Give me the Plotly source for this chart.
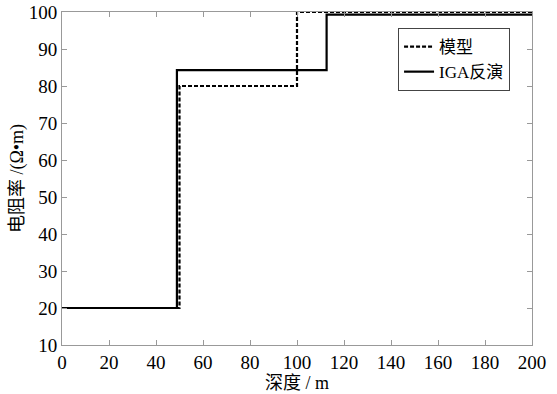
import plotly.graph_objects as go

# Model (dashed) step profile
model_x = [0, 50, 50, 100, 100, 200]
model_y = [20, 20, 80, 80, 100, 100]
# IGA inversion (solid) step profile
iga_x = [0, 48.9, 48.9, 112.6, 112.6, 200]
iga_y = [20, 20, 84.3, 84.3, 99.3, 99.3]

xticks = [0, 20, 40, 60, 80, 100, 120, 140, 160, 180, 200]
yticks = [10, 20, 30, 40, 50, 60, 70, 80, 90, 100]

FONT = "Liberation Serif, Noto Sans CJK SC"

fig = go.Figure()
fig.add_trace(go.Scatter(x=model_x, y=model_y, mode="lines", name="模型",
                         line=dict(color="black", width=2.2, dash="4px,2px")))
fig.add_trace(go.Scatter(x=iga_x, y=iga_y, mode="lines", name="IGA反演",
                         line=dict(color="black", width=2.2)))

axis_common = dict(showgrid=False, zeroline=False, showline=True, linecolor="#999999",
                   linewidth=1, mirror="allticks", ticks="inside", ticklen=5,
                   tickcolor="#999999", automargin=False, ticklabeloverflow="allow",
                   tickfont=dict(family=FONT, size=19, color="black"))

fig.update_layout(
    width=557, height=394,
    margin=dict(l=62, r=25, t=12, b=49, autoexpand=False),
    plot_bgcolor="white", paper_bgcolor="white",
    font=dict(family=FONT, color="black"),
    xaxis=dict(range=[0, 200], tickvals=xticks,
               title=dict(text="深度 / m", font=dict(family=FONT, size=18), standoff=2),
               **axis_common),
    yaxis=dict(range=[10, 100], tickvals=yticks,
               title=dict(text="电阻率 /(Ω•m)", font=dict(family=FONT, size=18), standoff=0),
               **axis_common),
    legend=dict(x=0.715, y=0.952, xanchor="left", yanchor="top",
                bordercolor="#444444", borderwidth=1, bgcolor="white",
                font=dict(family=FONT, size=17, color="black"),
                tracegroupgap=0),
    showlegend=True,
)

fig.write_html("out.html", config={"displayModeBar": False},
               post_script="document.body.style.margin='0';")
